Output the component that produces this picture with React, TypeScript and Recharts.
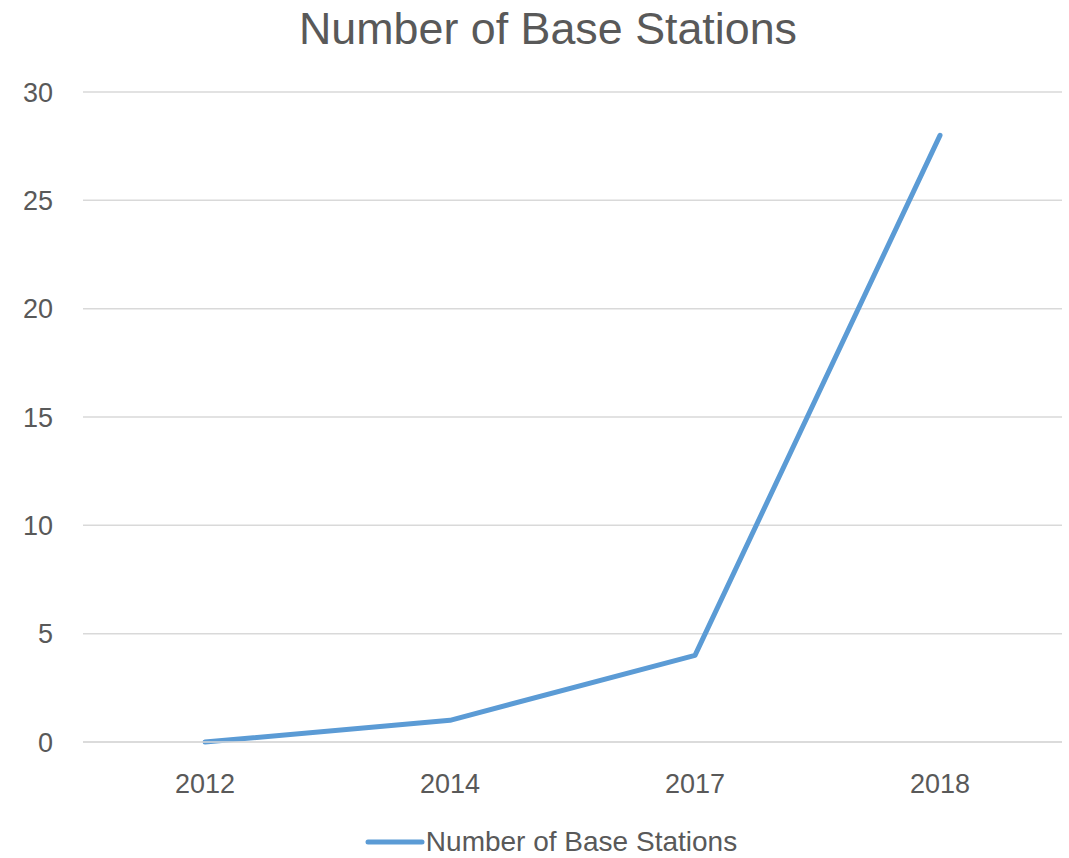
import { LineChart, Line, XAxis, YAxis, CartesianGrid, Legend } from 'recharts';

const years = ['2012', '2014', '2017', '2018'];
const stations = [0, 1, 4, 28];
const yTicks = [0, 5, 10, 15, 20, 25, 30];

const chartData = years.map((year, i) => ({ year, stations: stations[i] }));

const FONT = '"Liberation Sans", Arial, sans-serif';
const TEXT = '#595959';
const BLUE = '#5B9BD5';

const LegendContent = () => (
  <div style={{ display: 'flex', alignItems: 'center', justifyContent: 'center', height: 32 }}>
    <svg width={60} height={10} style={{ marginLeft: 40 }}>
      <line x1={3} y1={5} x2={57} y2={5} stroke={BLUE} strokeWidth={5} strokeLinecap="round" />
    </svg>
    <span style={{ fontFamily: FONT, fontSize: 28, lineHeight: '32px', color: TEXT, marginLeft: 1 }}>
      Number of Base Stations
    </span>
  </div>
);

const App = () => {
  return (
    <div style={{ position: 'absolute', left: 0, top: 0, width: 1069, height: 858, background: '#fff' }}>
      <div
        style={{
          position: 'absolute',
          left: 0,
          width: 1096,
          top: 3,
          textAlign: 'center',
          fontFamily: FONT,
          fontSize: 44.8,
          color: TEXT,
        }}
      >
        Number of Base Stations
      </div>
      <LineChart width={1069} height={858} data={chartData} margin={{ top: 92, right: 7, bottom: 0, left: 0 }}>
        <CartesianGrid vertical={false} stroke="#d9d9d9" strokeWidth={1.5} />
        <XAxis
          dataKey="year"
          height={84}
          padding={{ left: 122, right: 122 }}
          tickLine={false}
          tickSize={0}
          tickMargin={32}
          axisLine={{ stroke: '#d9d9d9', strokeWidth: 1.5 }}
          tick={{ fill: TEXT, fontSize: 27, fontFamily: FONT }}
        />
        <YAxis
          width={83}
          domain={[0, 30]}
          ticks={yTicks}
          axisLine={false}
          tickLine={false}
          tickSize={0}
          tickMargin={30}
          tick={{ fill: TEXT, fontSize: 27, fontFamily: FONT }}
        />
        <Legend verticalAlign="bottom" height={32} content={<LegendContent />} />
        <Line
          type="linear"
          dataKey="stations"
          name="Number of Base Stations"
          stroke={BLUE}
          strokeWidth={5}
          strokeLinecap="round"
          strokeLinejoin="round"
          dot={false}
          activeDot={false}
          isAnimationActive={false}
        />
      </LineChart>
    </div>
  );
};

export default App;
